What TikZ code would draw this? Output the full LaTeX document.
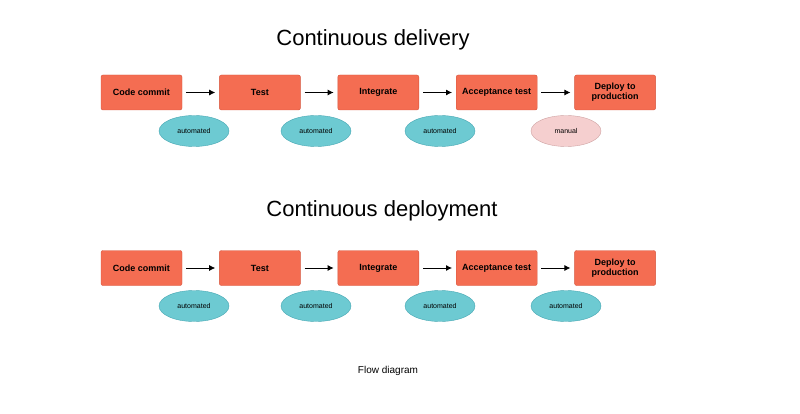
\documentclass[tikz,border=0pt]{standalone}
\usepackage{fontspec}
\setmainfont{Liberation Sans}
\usetikzlibrary{shapes.geometric, positioning, arrows.meta}
\definecolor{boxred}{HTML}{F46D52}
\definecolor{boxline}{HTML}{D5553D}
\definecolor{tealfill}{HTML}{6DCAD2}
\definecolor{tealline}{HTML}{48A7B3}
\definecolor{pinkfill}{HTML}{F5CFCF}
\definecolor{pinkline}{HTML}{CFA3A3}
\tikzset{
    stage/.style={draw=boxline, fill=boxred, rounded corners=2pt, minimum width=81pt, minimum height=35pt, align=center, font=\fontsize{9}{10}\selectfont\bfseries},
    autotag/.style={ellipse, draw=tealline, fill=tealfill, minimum width=70pt, minimum height=31pt, inner sep=0pt, font=\fontsize{7}{8}\selectfont},
    manualtag/.style={autotag, draw=pinkline, fill=pinkfill},
    arrow/.style={thick, -{Latex[length=6pt,width=6pt]}}
}
\begin{document}
\begin{tikzpicture}[x=1pt, y=-1pt, node distance=37pt]
\useasboundingbox (0,0) rectangle (800,414);

% Continuous delivery
\node (title1) at (373,40) {\fontsize{22}{24}\selectfont Continuous delivery};
\node (commit1) [stage] at (141.5,92.5) {Code commit};
\node (test1) [stage, right=of commit1] {Test};
\node (integ1) [stage, right=of test1] {Integrate};
\node (accept1) [stage, right=of integ1] {Acceptance test};
\node (deploy1) [stage, right=of accept1] {Deploy to\\production};
\node (a1) [autotag] at (194,131) {automated};
\node (a2) [autotag] at (316,131) {automated};
\node (a3) [autotag] at (440,131) {automated};
\node (m1) [manualtag] at (566,131) {manual};

% Continuous deployment
\node (title2) at (382,211) {\fontsize{22}{24}\selectfont Continuous deployment};
\node (commit2) [stage] at (141.5,268) {Code commit};
\node (test2) [stage, right=of commit2] {Test};
\node (integ2) [stage, right=of test2] {Integrate};
\node (accept2) [stage, right=of integ2] {Acceptance test};
\node (deploy2) [stage, right=of accept2] {Deploy to\\production};
\node (b1) [autotag] at (194,306) {automated};
\node (b2) [autotag] at (316,306) {automated};
\node (b3) [autotag] at (440,306) {automated};
\node (b4) [autotag] at (566,306) {automated};

\node (caption) at (388,371) {\fontsize{10}{12}\selectfont Flow diagram};

% Arrows
\foreach \r in {1,2} {
  \draw [arrow] ([xshift=4pt]commit\r.east) -- ([xshift=-4pt]test\r.west);
  \draw [arrow] ([xshift=4pt]test\r.east) -- ([xshift=-4pt]integ\r.west);
  \draw [arrow] ([xshift=4pt]integ\r.east) -- ([xshift=-4pt]accept\r.west);
  \draw [arrow] ([xshift=4pt]accept\r.east) -- ([xshift=-4pt]deploy\r.west);
}
\end{tikzpicture}
\end{document}
